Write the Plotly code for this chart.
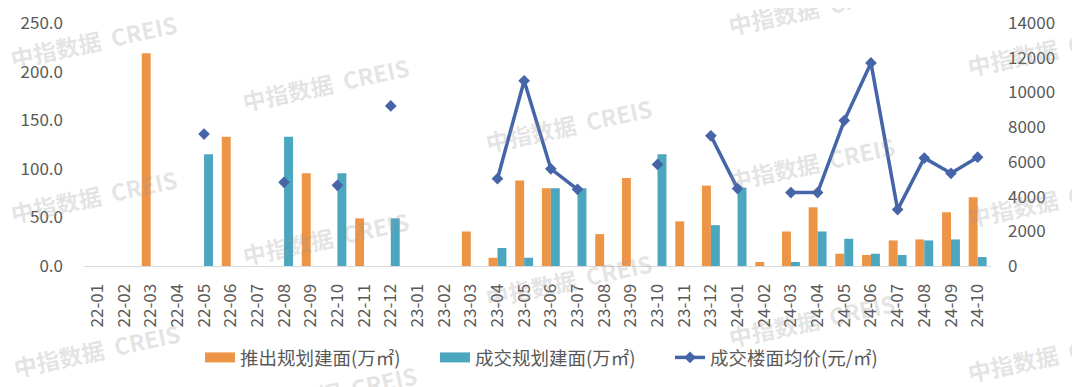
import plotly.graph_objects as go

months = ["22-01","22-02","22-03","22-04","22-05","22-06","22-07","22-08","22-09","22-10","22-11","22-12",
          "23-01","23-02","23-03","23-04","23-05","23-06","23-07","23-08","23-09","23-10","23-11","23-12",
          "24-01","24-02","24-03","24-04","24-05","24-06","24-07","24-08","24-09","24-10"]

supply_area = [None, None, 219.0, None, None, 133.0, None, None, 95.5, None, 49.0, None,
               None, None, 35.5, 8.5, 88.0, 80.0, None, 32.8, 90.5, None, 46.0, 82.7,
               None, 4.1, 35.5, 60.4, 12.6, 11.3, 26.3, 27.3, 55.3, 70.7]

deal_area = [None, None, None, None, 115.0, None, None, 133.0, None, 95.5, None, 49.0,
             None, None, None, 18.5, 8.5, 80.0, 80.0, None, None, 115.0, None, 42.0,
             80.6, None, 4.1, 35.5, 28.0, 12.6, 11.3, 26.3, 27.3, 9.2]

deal_price = [None, None, None, None, 7600, None, None, 4820, None, 4650, None, 9220,
              None, None, None, 5030, 10670, 5600, 4420, None, None, 5850, None, 7500,
              4460, None, 4230, 4230, 8380, 11700, 3250, 6220, 5340, 6270]

left_ticks = [0, 50, 100, 150, 200, 250]
right_ticks = [0, 2000, 4000, 6000, 8000, 10000, 12000, 14000]

names = ["推出规划建面(万㎡)", "成交规划建面(万㎡)", "成交楼面均价(元/㎡)"]
colors = ["#EE9446", "#4BA6BF", "#4565A8"]

FONT = "Noto Sans CJK SC"
TICK_COLOR = "#595959"

fig = go.Figure()
fig.add_trace(go.Bar(x=months, y=supply_area, name=names[0], showlegend=False,
                     legendgroup="a", marker=dict(color=colors[0], line=dict(width=0))))
fig.add_trace(go.Bar(x=months, y=deal_area, name=names[1], showlegend=False,
                     legendgroup="b", marker=dict(color=colors[1], line=dict(width=0))))
# legend swatches for the bar series (wide rectangles as in the reference)
for nm, col, grp, rk in [(names[0], colors[0], "a", 1), (names[1], colors[1], "b", 2)]:
    fig.add_trace(go.Scatter(x=[None], y=[None], mode="lines", name=nm, legendgroup=grp,
                             legendrank=rk, line=dict(color=col, width=10), hoverinfo="skip"))
fig.add_trace(go.Scatter(x=months, y=deal_price, name=names[2], yaxis="y2",
                         mode="lines+markers", connectgaps=False, legendgroup="c",
                         legendrank=3,
                         line=dict(color=colors[2], width=3.5),
                         marker=dict(symbol="diamond", size=9, color=colors[2])))

# watermarks (page pixel positions, converted to paper coords of plot area 84..991 x 22.7..266)
wm = [(93, 41), (93, 196), (96, 350),
      (325, 84), (325, 238), (333, 392),
      (568, 125), (568, 280),
      (811, 8), (811, 163), (811, 320),
      (1050, 49), (1050, 200), (1050, 355)]
annotations = []
for (px, py) in wm:
    annotations.append(dict(text="中指数据  CREIS", xref="paper", yref="paper",
                            x=(px - 84) / 907, y=(266 - py) / 243.3,
                            xanchor="center", yanchor="middle", showarrow=False,
                            textangle=-12,
                            font=dict(family=FONT, size=23, color="rgba(150,150,150,0.26)", weight=700)))

# page body has an 8px offset, so the figure is 8px smaller than the window
fig.update_layout(
    width=1072, height=379,
    margin=dict(l=76, r=89, t=14.7, b=121, autoexpand=False),
    paper_bgcolor="white", plot_bgcolor="white",
    barmode="group", bargap=0.33, bargroupgap=0,
    font=dict(family=FONT, size=17, color=TICK_COLOR),
    showlegend=True,
    legend=dict(orientation="h", x=(200 - 84) / 907, xanchor="left",
                y=(266 - 358) / 243.3, yanchor="middle", entrywidth=190,
                font=dict(family=FONT, size=18.5, color=TICK_COLOR),
                traceorder="normal", bgcolor="rgba(0,0,0,0)"),
    xaxis=dict(type="category", range=[-0.5, len(months) - 0.5], tickangle=-90,
               showgrid=False, showline=True,
               linecolor="#D9D9D9", linewidth=1, ticks="", ticklabelstandoff=10,
               automargin=False,
               tickfont=dict(family=FONT, size=17, color=TICK_COLOR)),
    yaxis=dict(range=[0, 250], tickvals=left_ticks, tickformat=".1f", showgrid=False,
               zeroline=False, showline=False, ticks="", ticklabelstandoff=20,
               automargin=False,
               tickfont=dict(family=FONT, size=17, color=TICK_COLOR)),
    yaxis2=dict(range=[0, 14000], tickvals=right_ticks, tickformat="d", overlaying="y",
                side="right", showgrid=False, zeroline=False, showline=False, ticks="",
                ticklabelstandoff=16, automargin=False,
                tickfont=dict(family=FONT, size=17, color=TICK_COLOR)),
    annotations=annotations,
)

fig.write_html("out.html")
